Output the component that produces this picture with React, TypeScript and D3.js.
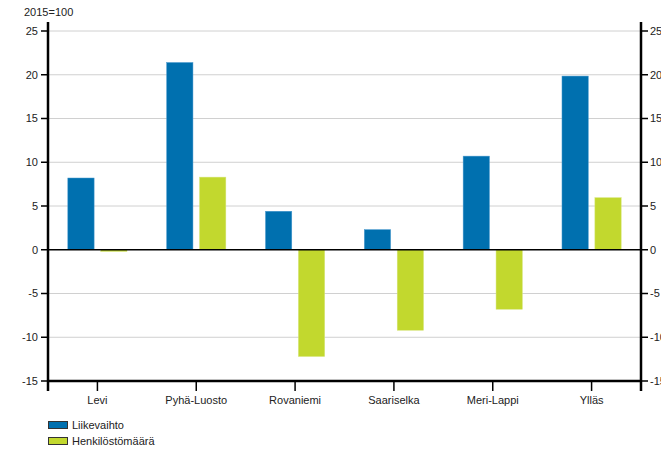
import React from "react";
import * as d3 from "d3";

const categories = ["Levi", "Pyhä-Luosto", "Rovaniemi", "Saariselka", "Meri-Lappi", "Ylläs"];
const liikevaihto = [8.2, 21.4, 4.4, 2.3, 10.7, 19.85];
const henkilosto = [-0.2, 8.3, -12.2, -9.2, -6.8, 5.95];
const seriesNames = ["Liikevaihto", "Henkilöstömäärä"];
const seriesColors = ["#0070AF", "#C2D82E"];
const yTicks = [-15, -10, -5, 0, 5, 10, 15, 20, 25];

export default function App() {
  const W = 661, H = 449;
  const x0 = 48, x1 = 641, yTop = 31, yBot = 381;
  const y = d3.scaleLinear().domain([-15, 25]).range([yBot, yTop]);
  const xb = d3.scaleBand().domain(categories).range([x0, x1]).paddingInner(0).paddingOuter(0);
  const bw = xb.bandwidth();
  const barW = 26.3, gap = 6.6;
  const font = "'Liberation Sans', Arial, sans-serif";
  const txt = "#222";
  const series = [liikevaihto, henkilosto];
  return (
    <svg width={W} height={H} style={{ position: "absolute", left: 0, top: 0, background: "#fff" }} fontFamily={font} fontSize={11}>
      {/* grid */}
      {yTicks.filter(t => t !== 0 && t !== -15).map(t => (
        <line key={"g" + t} x1={x0} x2={x1} y1={y(t)} y2={y(t)} stroke="#d0d0d0" strokeWidth={1} />
      ))}
      {/* bars */}
      {categories.map((c, i) => {
        const cx = (xb(c) as number) + bw / 2;
        return series.map((s, k) => {
          const v = s[i];
          const left = k === 0 ? cx - gap / 2 - barW : cx + gap / 2;
          const top = Math.min(y(v), y(0));
          const h = Math.abs(y(v) - y(0));
          return <rect key={c + k} x={left} y={top} width={barW} height={Math.max(h, 1.5)} fill={seriesColors[k]} stroke={k === 0 ? "#4a9ad0" : "#d6e67a"} strokeWidth={0.5} />;
        });
      })}
      {/* zero line */}
      <line x1={x0} x2={x1} y1={y(0)} y2={y(0)} stroke="#000" strokeWidth={1.3} />
      {/* axes */}
      <line x1={x0} x2={x0} y1={22} y2={391} stroke="#000" strokeWidth={2.5} />
      <line x1={x1} x2={x1} y1={22} y2={391} stroke="#000" strokeWidth={2.5} />
      <line x1={x0} x2={x1} y1={yBot} y2={yBot} stroke="#000" strokeWidth={2.5} />
      {yTicks.map(t => (
        <g key={"t" + t}>
          <line x1={x0 - 7} x2={x0} y1={y(t)} y2={y(t)} stroke="#000" strokeWidth={1.5} />
          <line x1={x1} x2={x1 + 7} y1={y(t)} y2={y(t)} stroke="#000" strokeWidth={1.5} />
          <text x={x0 - 10} y={y(t)} dy="0.35em" textAnchor="end" fill={txt}>{t}</text>
          <text x={x1 + 9} y={y(t)} dy="0.35em" textAnchor="start" fill={txt}>{t}</text>
        </g>
      ))}
      {categories.map(c => {
        const cx = (xb(c) as number) + bw / 2;
        return (
          <g key={"c" + c}>
            <line x1={cx} x2={cx} y1={yBot} y2={yBot + 10} stroke="#000" strokeWidth={1.5} />
            <text x={cx} y={404} textAnchor="middle" fill={txt}>{c}</text>
          </g>
        );
      })}
      <text x={24} y={16} fill={txt}>2015=100</text>
      {/* legend */}
      {seriesNames.map((n, k) => (
        <g key={"l" + n}>
          <rect x={48.5} y={421.5 + k * 16} width={19} height={7} fill={seriesColors[k]} stroke="#333" strokeWidth={1} />
          <text x={72} y={429 + k * 16} fill={txt}>{n}</text>
        </g>
      ))}
    </svg>
  );
}
